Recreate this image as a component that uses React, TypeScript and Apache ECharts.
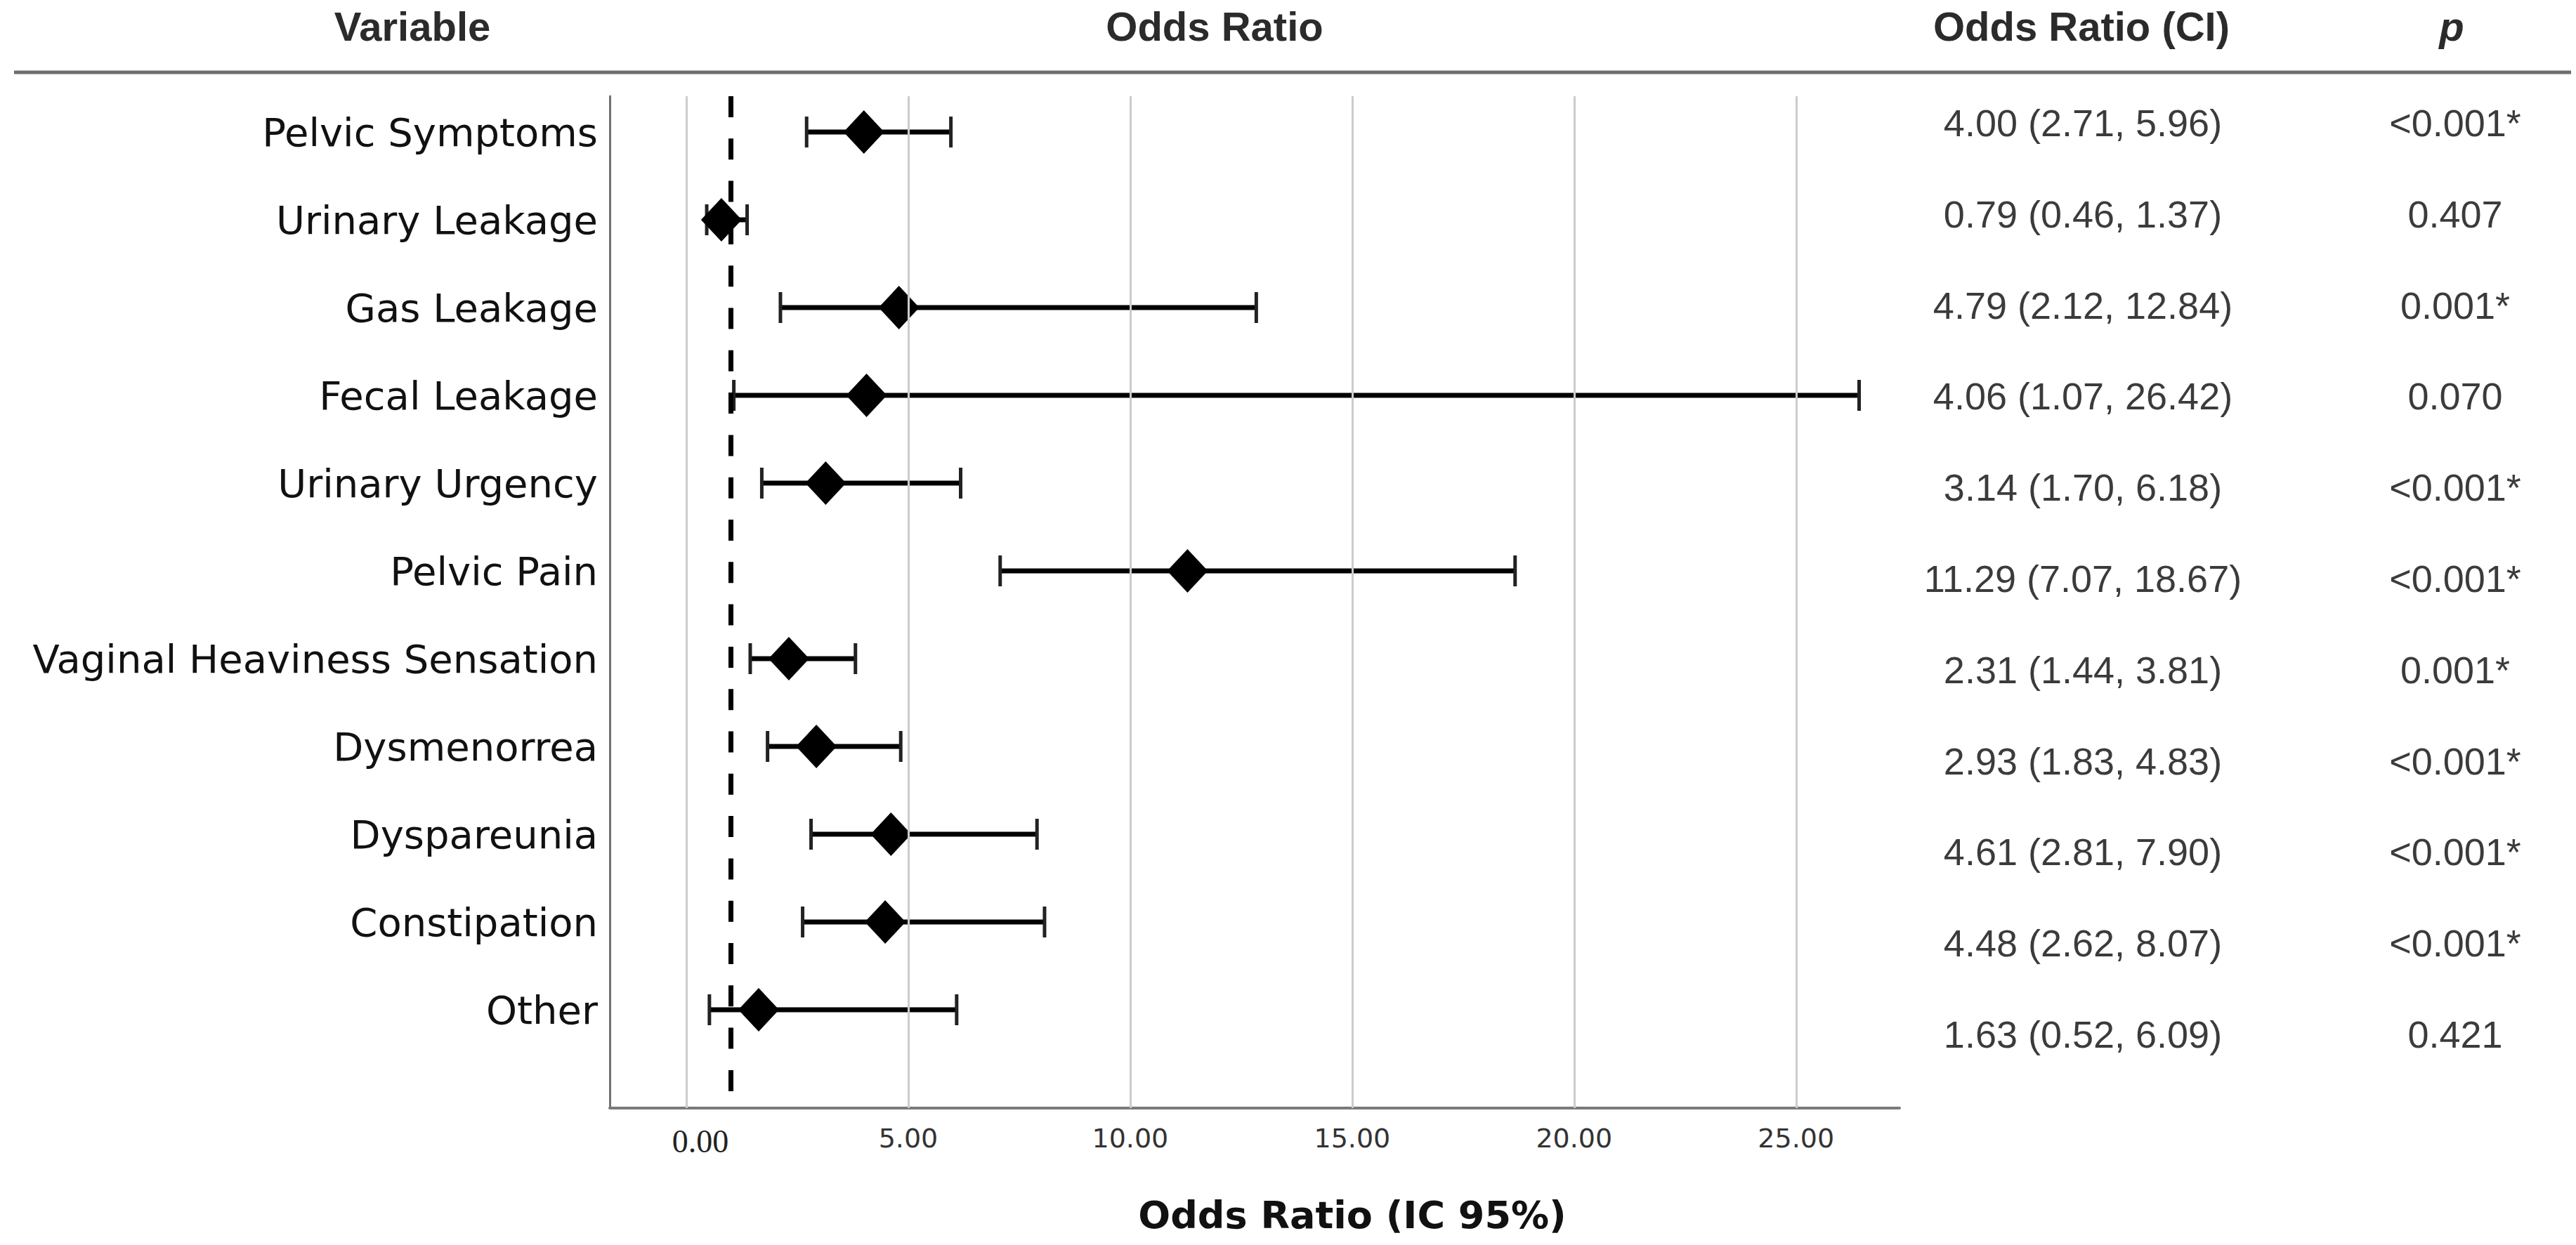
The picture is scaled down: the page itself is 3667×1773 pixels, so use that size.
import React, { useEffect, useRef } from "react";
import * as echarts from "echarts";

const categories = [
  "Pelvic Symptoms",
  "Urinary Leakage",
  "Gas Leakage",
  "Fecal Leakage",
  "Urinary Urgency",
  "Pelvic Pain",
  "Vaginal Heaviness Sensation",
  "Dysmenorrea",
  "Dyspareunia",
  "Constipation",
  "Other",
];
const oddsRatio = [4.0, 0.79, 4.79, 4.06, 3.14, 11.29, 2.31, 2.93, 4.61, 4.48, 1.63];
const ciLow = [2.71, 0.46, 2.12, 1.07, 1.7, 7.07, 1.44, 1.83, 2.81, 2.62, 0.52];
const ciHigh = [5.96, 1.37, 12.84, 26.42, 6.18, 18.67, 3.81, 4.83, 7.9, 8.07, 6.09];
const pValues = ["<0.001*", "0.407", "0.001*", "0.070", "<0.001*", "<0.001*", "0.001*", "<0.001*", "<0.001*", "<0.001*", "0.421"];
const xTicks = [0, 5, 10, 15, 20, 25];
const referenceOR = 1;
const headers = ["Variable", "Odds Ratio", "Odds Ratio (CI)", "p"];
const axisTitle = "Odds Ratio (IC 95%)";

const rows = categories.map((_, i) => i + 1);
const ciText = oddsRatio.map(
  (v, i) => `${v.toFixed(2)} (${ciLow[i].toFixed(2)}, ${ciHigh[i].toFixed(2)})`
);

export default function App() {
  const ref = useRef<HTMLDivElement>(null);
  useEffect(() => {
    document.body.style.margin = "0";
    document.body.style.overflow = "hidden";
    const chart = echarts.init(ref.current!, null, { renderer: "svg" });
    const headerFont = "'Liberation Sans', Arial, sans-serif";
    const option: any = {
      animation: false,
      backgroundColor: "#ffffff",
      grid: [
        { left: 868, top: 137, width: 1836, height: 1441, containLabel: false },
        { left: 2700, top: 110, width: 967, height: 1428, containLabel: false },
      ],
      xAxis: [
        {
          type: "value",
          gridIndex: 0,
          min: -1.7247,
          max: 27.33,
          axisLine: { show: true, onZero: false, lineStyle: { color: "#7a7a7a", width: 4 } },
          axisTick: { show: false },
          splitLine: { show: false },
          axisLabel: {
            customValues: xTicks,
            margin: 24,
            fontFamily: "'DejaVu Sans', sans-serif",
            fontSize: 38,
            color: "#333333",
            formatter: (v: number) => (v === 0 ? "{s|0.00}" : v.toFixed(2)),
            rich: {
              s: {
                fontFamily: "'Liberation Serif', 'Times New Roman', serif",
                fontSize: 46,
                color: "#222222",
                padding: [0, 0, 0, 40],
              },
            },
          },
        },
        { type: "value", gridIndex: 1, min: 0, max: 1.8245, show: false },
      ],
      yAxis: [
        {
          type: "value",
          gridIndex: 0,
          inverse: true,
          min: 0.592,
          max: 12.12,
          axisLine: { show: true, onZero: false, lineStyle: { color: "#707070", width: 3 } },
          axisTick: { show: false },
          splitLine: { show: false },
          axisLabel: {
            customValues: rows,
            margin: 17,
            fontFamily: "'DejaVu Sans', sans-serif",
            fontSize: 56,
            color: "#111111",
            padding: [10, 0, 0, 0],
            formatter: (v: number) => categories[Math.round(v) - 1] ?? "",
          },
        },
        { type: "value", gridIndex: 1, inverse: true, min: 0.5, max: 11.5, show: false },
      ],
      series: [
        {
          type: "line",
          xAxisIndex: 0,
          yAxisIndex: 0,
          data: [],
          z: 1,
          silent: true,
          markLine: {
            silent: true,
            symbol: ["none", "none"],
            label: { show: false },
            lineStyle: { color: "#cccccc", width: 3, type: "solid" },
            data: xTicks.map((v) => ({ xAxis: v })),
          },
        },
        {
          type: "custom",
          xAxisIndex: 0,
          yAxisIndex: 0,
          z: 3,
          data: rows.map((r, i) => [ciLow[i], ciHigh[i], r]),
          encode: { x: [0, 1], y: 2 },
          renderItem: (params: any, api: any) => {
            const p1 = api.coord([api.value(0), api.value(2)]);
            const p2 = api.coord([api.value(1), api.value(2)]);
            const h = 22;
            return {
              type: "group",
              children: [
                {
                  type: "line",
                  shape: { x1: p1[0], y1: p1[1], x2: p2[0], y2: p2[1] },
                  style: { stroke: "#000000", lineWidth: 7 },
                },
                {
                  type: "line",
                  shape: { x1: p1[0], y1: p1[1] - h, x2: p1[0], y2: p1[1] + h },
                  style: { stroke: "#222222", lineWidth: 5 },
                },
                {
                  type: "line",
                  shape: { x1: p2[0], y1: p2[1] - h, x2: p2[0], y2: p2[1] + h },
                  style: { stroke: "#222222", lineWidth: 5 },
                },
              ],
            };
          },
        },
        {
          type: "scatter",
          xAxisIndex: 0,
          yAxisIndex: 0,
          z: 4,
          symbol: "diamond",
          symbolSize: [58, 62],
          itemStyle: { color: "#000000", opacity: 1 },
          data: rows.map((r, i) => [oddsRatio[i], r]),
          markLine: {
            silent: true,
            symbol: ["none", "none"],
            label: { show: false },
            lineStyle: { color: "#000000", width: 7, type: [30, 30.3] },
            data: [{ xAxis: referenceOR }],
          },
        },
        {
          type: "scatter",
          xAxisIndex: 1,
          yAxisIndex: 1,
          symbolSize: 1,
          itemStyle: { color: "rgba(0,0,0,0)" },
          data: rows.map((r, i) => [0.5, r, ciText[i]]),
          label: {
            show: true,
            position: "inside",
            formatter: (p: any) => p.data[2],
            fontFamily: headerFont,
            fontSize: 54,
            color: "#0a0a0a",
          },
        },
        {
          type: "scatter",
          xAxisIndex: 1,
          yAxisIndex: 1,
          symbolSize: 1,
          itemStyle: { color: "rgba(0,0,0,0)" },
          data: rows.map((r, i) => [1.5, r, pValues[i]]),
          label: {
            show: true,
            position: "inside",
            formatter: (p: any) => p.data[2],
            fontFamily: headerFont,
            fontSize: 54,
            color: "#0a0a0a",
          },
        },
      ],
      graphic: [
        {
          type: "line",
          shape: { x1: 20, y1: 103, x2: 3660, y2: 103 },
          style: { stroke: "#6e6e6e", lineWidth: 5 },
        },
        ...[
          { t: headers[0], x: 587, italic: false },
          { t: headers[1], x: 1729, italic: false },
          { t: headers[2], x: 2963, italic: false },
          { t: headers[3], x: 3490, italic: true },
        ].map((h) => ({
          type: "text",
          x: h.x,
          y: 37,
          style: {
            text: h.t,
            fontFamily: headerFont,
            fontSize: 58,
            fontWeight: "bold",
            fontStyle: h.italic ? "italic" : "normal",
            fill: "#2b2b2b",
            align: "center",
            verticalAlign: "middle",
            textAlign: "center",
            textVerticalAlign: "middle",
          },
        })),
        {
          type: "text",
          x: 1925,
          y: 1730,
          style: {
            text: axisTitle,
            fontFamily: "'DejaVu Sans', sans-serif",
            fontSize: 54,
            fontWeight: "bold",
            fill: "#111111",
            align: "center",
            verticalAlign: "middle",
            textAlign: "center",
            textVerticalAlign: "middle",
          },
        },
      ],
    };
    chart.setOption(option);
    return () => chart.dispose();
  }, []);
  return <div ref={ref} style={{ width: 3667, height: 1773 }} />;
}
